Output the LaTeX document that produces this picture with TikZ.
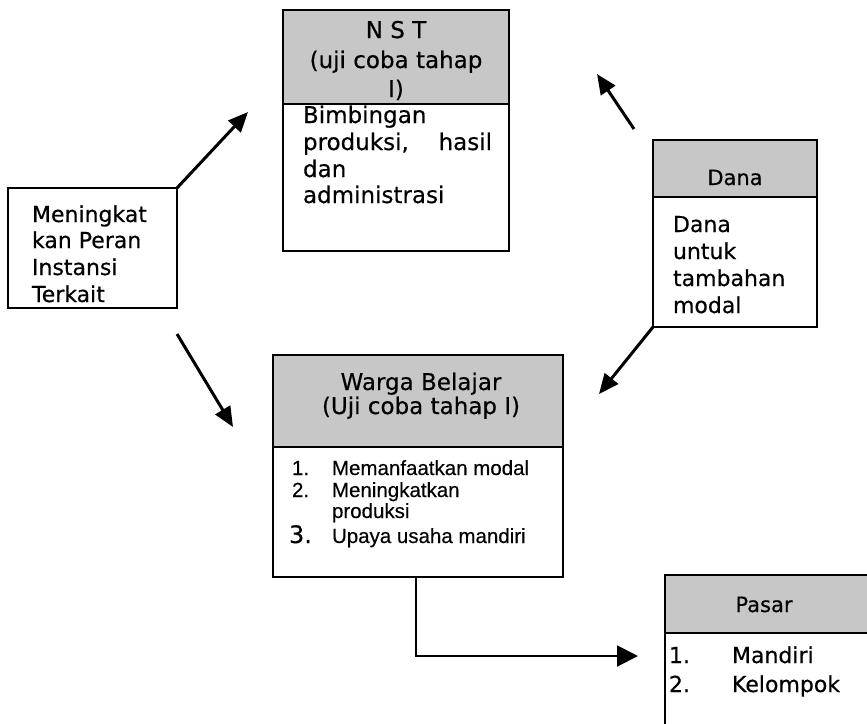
\documentclass[tikz,border=0pt]{standalone}
\usepackage{fontspec}
\setmainfont{DejaVu Sans}[FakeBold=0.4]
\newfontfamily\listfont{Liberation Sans}[FakeBold=0.3]
\usetikzlibrary{arrows.meta}

\tikzset{
  boxbase/.style={draw=black, line width=2pt, anchor=north west,
    inner sep=0pt, outer sep=0pt},
  hdr/.style={boxbase, fill=black!22},
  bodybox/.style={boxbase, fill=white},
  txt/.style={inner sep=0pt, outer sep=0pt, anchor=base west,
    font=\fontsize{22}{26}\selectfont},
  ctxt/.style={txt, anchor=base},
  smalllist/.style={txt, font=\listfont\fontsize{20.5}{24}\selectfont},
  flow/.style={line width=3pt, -{Triangle[length=20pt,width=17pt]}},
  elbow/.style={line width=2pt, -{Triangle[length=21pt,width=21pt]}},
}

\begin{document}
\begin{tikzpicture}[x=1pt, y=-1pt]
\useasboundingbox (0,0) rectangle (867,723);
\clip (0,0) rectangle (867,723);
\fill[white] (0,0) rectangle (867,723);

% NST box
\node[hdr, minimum width=226pt, minimum height=94pt] (nstH) at (283,10) {};
\node[bodybox, minimum width=226pt, minimum height=147pt] (nstB) at (nstH.south west) {};
\node[ctxt, font=\fontsize{23}{27}\selectfont] (nstT1) at (396,38) {N S T};
\node[ctxt, font=\fontsize{23}{27}\selectfont] (nstT2) at (396,68) {(uji coba tahap};
\node[ctxt, font=\fontsize{23}{27}\selectfont] (nstT3) at (396,97) {I)};
\node[txt, font=\fontsize{23}{27}\selectfont] (nstL1) at (303,123) {Bimbingan};
\node[txt, font=\fontsize{23}{27}\selectfont] (nstL2) at (303,150) {\makebox[189pt][s]{produksi,\hfill hasil}};
\node[txt, font=\fontsize{23}{27}\selectfont] (nstL3) at (303,177) {dan};
\node[txt, font=\fontsize{23}{27}\selectfont] (nstL4) at (303,203) {administrasi};

% Meningkatkan peran instansi terkait
\node[bodybox, minimum width=169pt, minimum height=120pt] (peran) at (8,188) {};
\node[txt] (peranL1) at (32,222) {Meningkat};
\node[txt] (peranL2) at (32,248) {kan Peran};
\node[txt] (peranL3) at (32,275) {Instansi};
\node[txt] (peranL4) at (32,302) {Terkait};

% Dana box
\node[hdr, minimum width=164pt, minimum height=57pt] (danaH) at (653,140) {};
\node[bodybox, minimum width=164pt, minimum height=130pt] (danaB) at (danaH.south west) {};
\node[ctxt, font=\fontsize{21}{25}\selectfont] (danaT) at (735,185) {Dana};
\node[txt] (danaL1) at (673,232) {Dana};
\node[txt] (danaL2) at (673,259) {untuk};
\node[txt] (danaL3) at (673,286) {tambahan};
\node[txt] (danaL4) at (673,313) {modal};

% Warga belajar box
\node[hdr, minimum width=290pt, minimum height=92pt] (wargaH) at (273,355) {};
\node[bodybox, minimum width=290pt, minimum height=130pt] (wargaB) at (wargaH.south west) {};
\node[ctxt, font=\fontsize{23}{27}\selectfont] (wargaT1) at (421,390) {Warga Belajar};
\node[ctxt, font=\fontsize{23}{27}\selectfont] (wargaT2) at (421,414) {(Uji coba tahap I)};
\node[smalllist] (wargaN1) at (292,475) {1.};
\node[smalllist] (wargaL1) at (332,475) {Memanfaatkan modal};
\node[smalllist] (wargaN2) at (292,497) {2.};
\node[smalllist] (wargaL2) at (332,497) {Meningkatkan};
\node[smalllist] (wargaL2b) at (332,518) {produksi};
\node[txt, font=\fontsize{24}{28}\selectfont] (wargaN3) at (289,543) {3.};
\node[smalllist] (wargaL3) at (332,543) {Upaya usaha mandiri};

% Pasar box
\node[hdr, minimum width=230pt, minimum height=58pt] (pasarH) at (665,575) {};
\node[bodybox, minimum width=230pt, minimum height=130pt] (pasarB) at (pasarH.south west) {};
\node[ctxt, font=\fontsize{21}{25}\selectfont] (pasarT) at (764,612) {Pasar};
\node[txt] (pasarN1) at (669,663) {1.};
\node[txt] (pasarL1) at (732,663) {Mandiri};
\node[txt] (pasarN2) at (669,692) {2.};
\node[txt] (pasarL2) at (732,692) {Kelompok};

% connector ends
\coordinate (toNst) at (248,112);
\coordinate (peranLow) at (177,334);
\coordinate (toWargaL) at (233,427);
\coordinate (toWargaR) at (599,394);
\coordinate (danaUp) at (634,129);
\coordinate (toNstR) at (597,74);
\coordinate (toPasar) at (638,656);

% connectors
\draw[flow] (peran.north east) -- (toNst);
\draw[flow] (peranLow) -- (toWargaL);
\draw[flow] (danaB.south west) -- (toWargaR);
\draw[flow] (danaUp) -- (toNstR);
\draw[elbow] ([xshift=-2pt]wargaB.south) |- (toPasar);
\end{tikzpicture}
\end{document}
